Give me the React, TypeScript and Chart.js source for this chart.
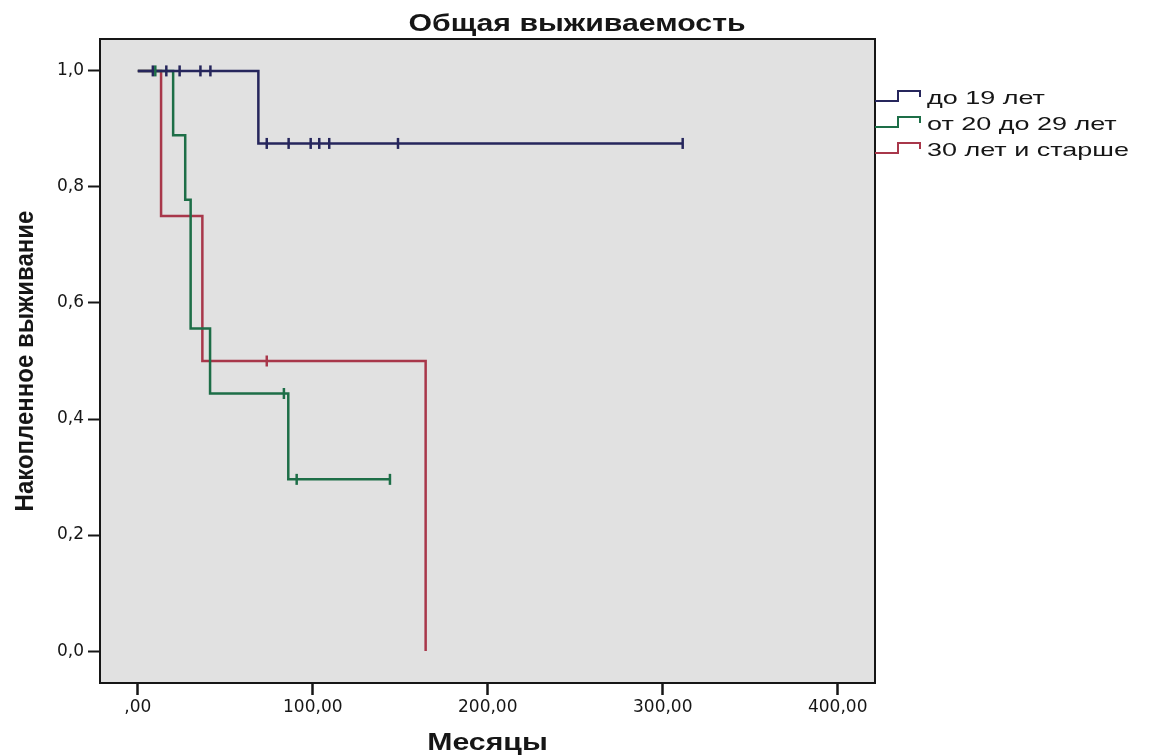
import React, { useEffect, useRef } from "react";
import { Chart, registerables } from "chart.js";

Chart.register(...registerables);

const chartTitle = "Общая выживаемость";
const xAxisTitle = "Месяцы";
const yAxisTitle = "Накопленное выживание";

const seriesNames = ["до 19 лет", "от 20 до 29 лет", "30 лет и старше"];
const seriesColors = ["#26265c", "#1d6e47", "#a8374a"];

// Step curves: months at which survival changes, and survival after the step
const group1StepMonths = [0, 68.9, 311.4];
const group1StepSurvival = [1, 0.875, 0.875];
const group1CensorMonths = [8.6, 16.3, 23.9, 35.8, 41.5, 73.7, 86.2, 98.8, 103.7, 109.4, 148.7, 311.4];
const group1CensorSurvival = [1, 1, 1, 1, 1, 0.875, 0.875, 0.875, 0.875, 0.875, 0.875, 0.875];

const group2StepMonths = [0, 20.2, 27.1, 30.2, 41.3, 86.0, 144.1];
const group2StepSurvival = [1, 0.889, 0.778, 0.556, 0.444, 0.296, 0.296];
const group2CensorMonths = [10.0, 83.5, 90.8, 144.1];
const group2CensorSurvival = [1, 0.444, 0.296, 0.296];

const group3StepMonths = [0, 13.3, 36.9, 164.5];
const group3StepSurvival = [1, 0.75, 0.5, 0];
const group3CensorMonths = [73.7];
const group3CensorSurvival = [0.5];

const xTickValues = [0, 100, 200, 300, 400];
const xTickLabels = [",00", "100,00", "200,00", "300,00", "400,00"];
const yTickValues = [0, 0.2, 0.4, 0.6, 0.8, 1.0];
const yTickLabels = ["0,0", "0,2", "0,4", "0,6", "0,8", "1,0"];

const toPoints = (xs: number[], ys: number[]) => xs.map((x, i) => ({ x, y: ys[i] }));

const INK = "#161616";

function drawStretched(
  ctx: CanvasRenderingContext2D,
  text: string,
  x: number,
  y: number,
  font: string,
  sx: number,
  align: "left" | "center"
) {
  ctx.save();
  ctx.font = font;
  ctx.textAlign = "left";
  ctx.textBaseline = "alphabetic";
  const w = ctx.measureText(text).width * sx;
  const left = align === "center" ? x - w / 2 : x;
  ctx.translate(left, y);
  ctx.scale(sx, 1);
  ctx.fillStyle = INK;
  ctx.fillText(text, 0, 0);
  ctx.restore();
}

const framePlugin = {
  id: "survivalFrame",
  beforeDraw(chart: any) {
    const { ctx, chartArea: a } = chart;
    ctx.save();
    ctx.fillStyle = "#ffffff";
    ctx.fillRect(0, 0, chart.width, chart.height);
    ctx.fillStyle = "#e1e1e1";
    ctx.fillRect(a.left, a.top, a.right - a.left, a.bottom - a.top);
    ctx.restore();
  },
  afterDraw(chart: any) {
    const { ctx, chartArea: a } = chart;
    ctx.save();
    ctx.strokeStyle = INK;
    ctx.lineWidth = 2;
    ctx.strokeRect(a.left, a.top, a.right - a.left, a.bottom - a.top);
    ctx.restore();

    // titles
    drawStretched(ctx, chartTitle, 577, 31, "bold 24px 'Liberation Sans'", 1.26, "center");
    drawStretched(ctx, xAxisTitle, (a.left + a.right) / 2, 750, "bold 24px 'Liberation Sans'", 1.26, "center");

    ctx.save();
    ctx.font = "bold 24px 'Liberation Sans'";
    ctx.fillStyle = INK;
    ctx.textAlign = "center";
    ctx.textBaseline = "alphabetic";
    ctx.translate(33, 361);
    ctx.scale(1.1, 1);
    ctx.rotate(-Math.PI / 2);
    ctx.fillText(yAxisTitle, 0, 0);
    ctx.restore();

    // legend with step-shaped keys
    seriesNames.forEach((name, i) => {
      const base = 104 + 26 * i;
      ctx.save();
      ctx.strokeStyle = seriesColors[i];
      ctx.lineWidth = 2;
      ctx.beginPath();
      ctx.moveTo(a.right, base - 3);
      ctx.lineTo(898, base - 3);
      ctx.lineTo(898, base - 13);
      ctx.lineTo(920, base - 13);
      ctx.lineTo(920, base - 7);
      ctx.stroke();
      ctx.restore();
      drawStretched(ctx, name, 927, base, "19px 'Liberation Sans'", 1.42, "left");
    });
  },
};

export default function App() {
  const ref = useRef<HTMLCanvasElement | null>(null);

  useEffect(() => {
    document.body.style.margin = "0";
    const canvas = ref.current;
    if (!canvas) return;

    const stepLine = (xs: number[], ys: number[], i: number, order: number) => ({
      label: seriesNames[i],
      data: toPoints(xs, ys),
      showLine: true,
      stepped: "before" as const,
      borderColor: seriesColors[i],
      borderWidth: 2.5,
      pointRadius: 0,
      fill: false,
      order,
    });
    const censorMarks = (xs: number[], ys: number[], i: number, order: number) => ({
      label: seriesNames[i] + " (цензур.)",
      data: toPoints(xs, ys),
      showLine: false,
      pointStyle: "line" as const,
      rotation: 90,
      pointRadius: 5.5,
      borderColor: seriesColors[i],
      backgroundColor: seriesColors[i],
      borderWidth: 2.5,
      order,
    });

    const chart = new Chart(canvas, {
      type: "scatter",
      data: {
        datasets: [
          stepLine(group1StepMonths, group1StepSurvival, 0, 3),
          stepLine(group2StepMonths, group2StepSurvival, 1, 4),
          stepLine(group3StepMonths, group3StepSurvival, 2, 5),
          censorMarks(group1CensorMonths, group1CensorSurvival, 0, 1),
          censorMarks(group2CensorMonths, group2CensorSurvival, 1, 0),
          censorMarks(group3CensorMonths, group3CensorSurvival, 2, 2),
        ] as any,
      },
      options: {
        animation: false,
        responsive: false,
        maintainAspectRatio: false,
        devicePixelRatio: 1,
        layout: { padding: { left: 0, right: 274, top: 39, bottom: 22 } },
        plugins: {
          legend: { display: false },
          title: { display: false },
          tooltip: { enabled: false },
        },
        scales: {
          x: {
            type: "linear",
            min: -21.6,
            max: 421.3,
            afterFit: (s: any) => {
              s.height = 50;
            },
            afterBuildTicks: (s: any) => {
              s.ticks = xTickValues.map((v) => ({ value: v }));
            },
            ticks: {
              autoSkip: false,
              maxRotation: 0,
              includeBounds: false,
              padding: 2,
              color: INK,
              font: { family: "'DejaVu Sans'", size: 17 },
              callback: (v: any) => xTickLabels[xTickValues.indexOf(Number(v))] ?? "",
            },
            grid: {
              drawOnChartArea: false,
              drawTicks: true,
              tickLength: 12,
              tickColor: INK,
              tickWidth: 2.5,
            },
            border: { display: false },
          },
          y: {
            type: "linear",
            min: -0.055,
            max: 1.055,
            afterFit: (s: any) => {
              s.width = 100;
            },
            afterBuildTicks: (s: any) => {
              s.ticks = yTickValues.map((v) => ({ value: v }));
            },
            ticks: {
              autoSkip: false,
              includeBounds: false,
              padding: 4,
              color: INK,
              font: { family: "'DejaVu Sans'", size: 17 },
              callback: (v: any) => {
                const idx = yTickValues.findIndex((t) => Math.abs(t - Number(v)) < 1e-6);
                return idx >= 0 ? yTickLabels[idx] : "";
              },
            },
            grid: {
              drawOnChartArea: false,
              drawTicks: true,
              tickLength: 12,
              tickColor: INK,
              tickWidth: 2,
            },
            border: { display: false },
          },
        },
      },
      plugins: [framePlugin],
    });

    return () => chart.destroy();
  }, []);

  return (
    <canvas
      ref={ref}
      width={1149}
      height={755}
      style={{ display: "block", width: "1149px", height: "755px" }}
    />
  );
}
